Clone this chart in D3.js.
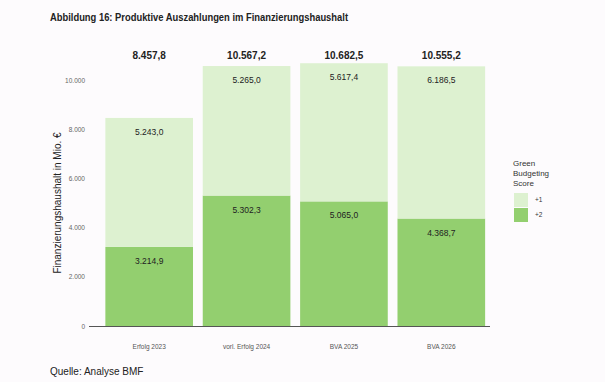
<!DOCTYPE html>
<html>
<head>
<meta charset="utf-8">
<script src="https://cdn.jsdelivr.net/npm/d3@7"></script>
<style>
  body { margin: 0; background: #fdfbfd; }
  text { font-family: "Liberation Sans", Arial, sans-serif; }
</style>
</head>
<body>
<svg id="chart"></svg>
<script>
var categories = ["Erfolg 2023", "vorl. Erfolg 2024", "BVA 2025", "BVA 2026"];
var score2 = [3214.9, 5302.3, 5065.0, 4368.7];
var score1 = [5243.0, 5265.0, 5617.4, 6186.5];
var totals = [8457.8, 10567.2, 10682.5, 10555.2];
var yTicks = [0, 2000, 4000, 6000, 8000, 10000];
var seriesNames = ["+1", "+2"];
var colors = { "+1": "#ddf1d0", "+2": "#93cf6f" };

var width = 605, height = 382;
var margin = { top: 80, right: 115, bottom: 56, left: 100 };

var fmt = function(v, dec) {
    var s = v.toFixed(dec).split(".");
    var intPart = s[0].replace(/\B(?=(\d{3})+(?!\d))/g, ".");
    return dec ? intPart + "," + s[1] : intPart;
};

var svg = d3.select("#chart")
    .attr("width", width)
    .attr("height", height);

svg.append("rect").attr("width", width).attr("height", height).attr("fill", "#fdfbfd");

var x = d3.scaleBand()
    .domain(categories)
    .range([margin.left + 0.5, 490])
    .paddingInner(0.1)
    .paddingOuter(0.05);

var y = d3.scaleLinear()
    .domain([0, 10000])
    .range([326, 80]);

var rows = categories.map(function(c, i) {
    return { cat: c, "+2": score2[i], "+1": score1[i], total: totals[i] };
});

var stack = d3.stack().keys(["+2", "+1"]);
var layers = stack(rows);

// title
svg.append("text")
    .attr("x", 50).attr("y", 21)
    .attr("font-size", 10.5).attr("font-weight", "bold")
    .attr("fill", "#222")
    .attr("textLength", 298).attr("lengthAdjust", "spacingAndGlyphs")
    .text("Abbildung 16: Produktive Auszahlungen im Finanzierungshaushalt");

// y axis labels
svg.append("g").selectAll("text")
    .data(yTicks)
    .enter().append("text")
    .attr("x", 85).attr("y", function(d) { return y(d) + 2.5; })
    .attr("text-anchor", "end")
    .attr("font-size", 6.5).attr("fill", "#666")
    .text(function(d) { return fmt(d, 0); });

svg.append("text")
    .attr("transform", "translate(61," + y(5000) + ") rotate(-90)")
    .attr("text-anchor", "middle")
    .attr("font-size", 10).attr("fill", "#222")
    .text("Finanzierungshaushalt in Mio. €");

// bars
svg.append("g").selectAll("g")
    .data(layers)
    .enter().append("g")
    .attr("fill", function(d) { return colors[d.key]; })
    .selectAll("rect")
    .data(function(d) { return d; })
    .enter().append("rect")
    .attr("x", function(d) { return x(d.data.cat); })
    .attr("y", function(d) { return y(d[1]); })
    .attr("width", x.bandwidth())
    .attr("height", function(d) { return y(d[0]) - y(d[1]); });

// segment labels
svg.append("g").selectAll("g")
    .data(layers)
    .enter().append("g")
    .selectAll("text")
    .data(function(d) { return d.map(function(p) { return { p: p, key: d.key }; }); })
    .enter().append("text")
    .attr("x", function(d) { return x(d.p.data.cat) + x.bandwidth() / 2; })
    .attr("y", function(d) { return y(d.p[1]) + 17; })
    .attr("text-anchor", "middle")
    .attr("font-size", 8.5).attr("fill", "#222")
    .text(function(d) { return fmt(d.p.data[d.key], 1); });

// totals
svg.append("g").selectAll("text")
    .data(rows)
    .enter().append("text")
    .attr("x", function(d) { return x(d.cat) + x.bandwidth() / 2; })
    .attr("y", 59)
    .attr("text-anchor", "middle")
    .attr("font-size", 10).attr("font-weight", "bold").attr("fill", "#222")
    .text(function(d) { return fmt(d.total, 1); });

// baseline
svg.append("line")
    .attr("x1", 89).attr("x2", 490)
    .attr("y1", y(0) + 0.5).attr("y2", y(0) + 0.5)
    .attr("stroke", "#555").attr("stroke-width", 1.2);

// category labels
svg.append("g").selectAll("text")
    .data(categories)
    .enter().append("text")
    .attr("x", function(d) { return x(d) + x.bandwidth() / 2; })
    .attr("y", 349)
    .attr("text-anchor", "middle")
    .attr("font-size", 6.5).attr("fill", "#555")
    .text(function(d) { return d; });

// legend
var legend = svg.append("g").attr("transform", "translate(513,0)");
["Green", "Budgeting", "Score"].forEach(function(t, i) {
    legend.append("text")
        .attr("x", 0).attr("y", 166 + i * 10)
        .attr("font-size", 8).attr("fill", "#333")
        .text(t);
});
legend.selectAll("rect")
    .data(seriesNames)
    .enter().append("rect")
    .attr("x", 1).attr("y", function(d, i) { return 193 + i * 15; })
    .attr("width", 14).attr("height", 14)
    .attr("fill", function(d) { return colors[d]; });
legend.selectAll(".lt")
    .data(seriesNames)
    .enter().append("text")
    .attr("x", 22).attr("y", function(d, i) { return 202 + i * 15; })
    .attr("font-size", 6.5).attr("fill", "#333")
    .text(function(d) { return d; });

// source
svg.append("text")
    .attr("x", 50).attr("y", 375)
    .attr("font-size", 10).attr("fill", "#222")
    .text("Quelle: Analyse BMF");
</script>
</body>
</html>
